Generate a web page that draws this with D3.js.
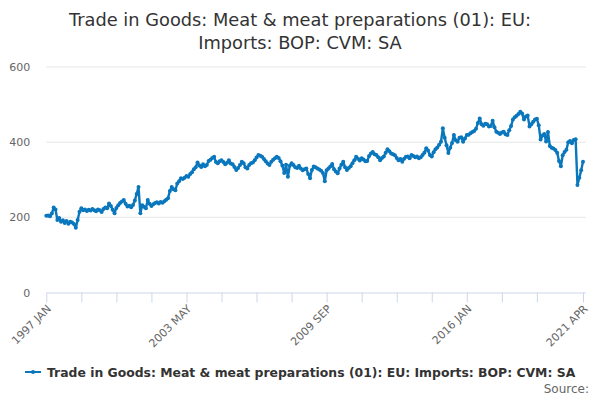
<!DOCTYPE html>
<html>
<head>
<meta charset="utf-8">
<script src="https://cdn.jsdelivr.net/npm/d3@7"></script>
<style>
  body { margin: 0; background: #fff; }
  svg { font-family: "DejaVu Sans", sans-serif; }
</style>
</head>
<body>
<div id="chart"></div>
<script>
// monthly values, Jan 1997 .. Apr 2021
const values1997_2000 = [204, 205, 203, 210, 226, 221, 193, 198, 188, 192, 185, 190,
  183, 188, 186, 182, 172, 193, 215, 224, 219, 221, 217, 220,
  218, 222, 219, 216, 221, 219, 214, 222, 226, 224, 237, 230,
  220, 211, 225, 232, 238, 242, 246, 236, 229, 231, 227, 233];
const values2001_2004 = [245, 262, 281, 211, 232, 228, 224, 246, 236, 230, 235, 238,
  240, 237, 241, 239, 243, 247, 251, 270, 281, 275, 272, 290,
  296, 304, 302, 305, 310, 308, 315, 320, 328, 333, 346, 338,
  334, 341, 336, 339, 350, 353, 358, 361, 347, 344, 349, 352];
const values2005_2008 = [347, 341, 345, 352, 343, 341, 334, 326, 331, 339, 348, 344,
  333, 330, 339, 344, 346, 352, 359, 366, 364, 361, 355, 349,
  343, 339, 348, 353, 357, 361, 358, 349, 338, 318, 340, 308,
  337, 344, 339, 333, 331, 337, 330, 325, 328, 330, 315, 304];
const values2009_2012 = [326, 335, 333, 330, 327, 324, 318, 296, 325, 330, 335, 342,
  328, 322, 317, 330, 340, 348, 333, 326, 331, 336, 344, 352,
  361, 356, 351, 357, 354, 349, 350, 363, 370, 374, 368, 366,
  360, 352, 358, 362, 372, 381, 376, 370, 368, 365, 358, 352];
const values2013_2016 = [355, 348, 356, 361, 362, 357, 366, 363, 360, 362, 357, 360,
  366, 372, 384, 378, 366, 362, 373, 381, 386, 393, 401, 437,
  412, 392, 371, 385, 398, 419, 405, 401, 412, 413, 401, 410,
  419, 420, 424, 427, 430, 436, 451, 463, 448, 444, 449, 448];
const values2017_2021 = [442, 443, 457, 440, 428, 425, 422, 426, 428, 421, 419, 432,
  443, 460, 466, 470, 475, 481, 476, 460, 468, 471, 442, 448,
  454, 460, 462, 445, 407, 418, 422, 402, 427, 390, 385, 383,
  379, 372, 350, 336, 365, 374, 380, 400, 403, 397, 406, 408,
  286, 305, 325, 348];

const values = [].concat(values1997_2000, values2001_2004, values2005_2008,
  values2009_2012, values2013_2016, values2017_2021);

// categories: one per month
const months = d3.timeMonth.range(new Date(1997, 0, 1), new Date(2021, 4, 1));
const data = months.map((m, i) => ({ date: m, value: values[i] }));

const yTicks = [0, 200, 400, 600];
const xLabelTicks = ["1997 JAN", "2003 MAY", "2009 SEP", "2016 JAN", "2021 APR"];
const title = ["Trade in Goods: Meat & meat preparations (01): EU:", "Imports: BOP: CVM: SA"];
const seriesName = "Trade in Goods: Meat & meat preparations (01): EU: Imports: BOP: CVM: SA";

const W = 600, H = 400;
const margin = { top: 67, right: 17, bottom: 107.5, left: 46.3 };
const width = W - margin.left - margin.right,
  height = H - margin.top - margin.bottom;
const color = "#0a77bd";

const svg = d3.select("#chart").append("svg")
  .attr("width", W).attr("height", H);

// title
svg.append("text")
  .attr("text-anchor", "middle")
  .attr("fill", "#333333")
  .style("font-size", "17.8px")
  .selectAll("tspan")
  .data(title)
  .join("tspan")
  .attr("x", W / 2)
  .attr("y", (d, i) => 26 + i * 23)
  .text(d => d);

const g = svg.append("g")
  .attr("transform", `translate(${margin.left}, ${margin.top})`);

// x scale by month index
const x = d3.scaleLinear()
  .domain([0, data.length - 1])
  .range([0, width]);
const y = d3.scaleLinear()
  .domain([0, 600])
  .range([height, 0]);

// gridlines
g.append("g")
  .selectAll("line")
  .data(yTicks.filter(d => d > 0))
  .join("line")
  .attr("x1", 0).attr("x2", width + 3)
  .attr("y1", d => y(d)).attr("y2", d => y(d))
  .attr("stroke", "#e6e6e6");

// y labels
g.append("g")
  .call(d3.axisLeft(y).tickValues(yTicks).tickSize(0).tickPadding(16))
  .call(a => a.select(".domain").remove())
  .selectAll("text")
  .attr("fill", "#666666")
  .style("font-size", "11px")
  .style("font-family", "DejaVu Sans, sans-serif");

// x axis: a tick every 19 months, labels on every 4th
const tickIdx = d3.range(0, 229, 19).concat([247, 266, 291]);
const labelIdx = { 0: 0, 76: 1, 152: 2, 228: 3, 291: 4 };
const xAxis = g.append("g")
  .attr("transform", `translate(0, ${height})`)
  .call(d3.axisBottom(x).tickValues(tickIdx).tickSize(10)
    .tickFormat(d => labelIdx[d] !== undefined ? xLabelTicks[labelIdx[d]] : ""));
xAxis.select(".domain").attr("stroke", "#ccd6eb").attr("d", `M0.5,0.5H${width + 3}`);
xAxis.selectAll(".tick line").attr("stroke", "#ccd6eb");
xAxis.selectAll(".tick text")
  .attr("fill", "#666666")
  .style("font-size", "11px")
  .style("font-family", "DejaVu Sans, sans-serif")
  .attr("text-anchor", "end")
  .attr("dy", null)
  .attr("y", 0)
  .attr("transform", "translate(5, 17) rotate(-45)");

// series line
const line = d3.line()
  .x((d, i) => x(i))
  .y(d => y(d.value));
g.append("path")
  .datum(data)
  .attr("fill", "none")
  .attr("stroke", color)
  .attr("stroke-width", 2.4)
  .attr("stroke-linejoin", "round")
  .attr("d", line);
g.append("g")
  .selectAll("circle")
  .data(data)
  .join("circle")
  .attr("cx", (d, i) => x(i))
  .attr("cy", d => y(d.value))
  .attr("r", 2)
  .attr("fill", color);

// legend
const legend = svg.append("g").attr("transform", "translate(0, 372)");
legend.append("line")
  .attr("x1", 25).attr("x2", 41)
  .attr("stroke", color).attr("stroke-width", 2);
legend.append("circle")
  .attr("cx", 33).attr("r", 2).attr("fill", color);
legend.append("text")
  .attr("x", 47).attr("y", 4.5)
  .attr("fill", "#333333")
  .style("font-size", "12.4px")
  .style("font-weight", "bold")
  .text(seriesName);

svg.append("text")
  .attr("x", 589).attr("y", 393)
  .attr("text-anchor", "end")
  .attr("fill", "#666666")
  .style("font-size", "12px")
  .text("Source:");
</script>
</body>
</html>
